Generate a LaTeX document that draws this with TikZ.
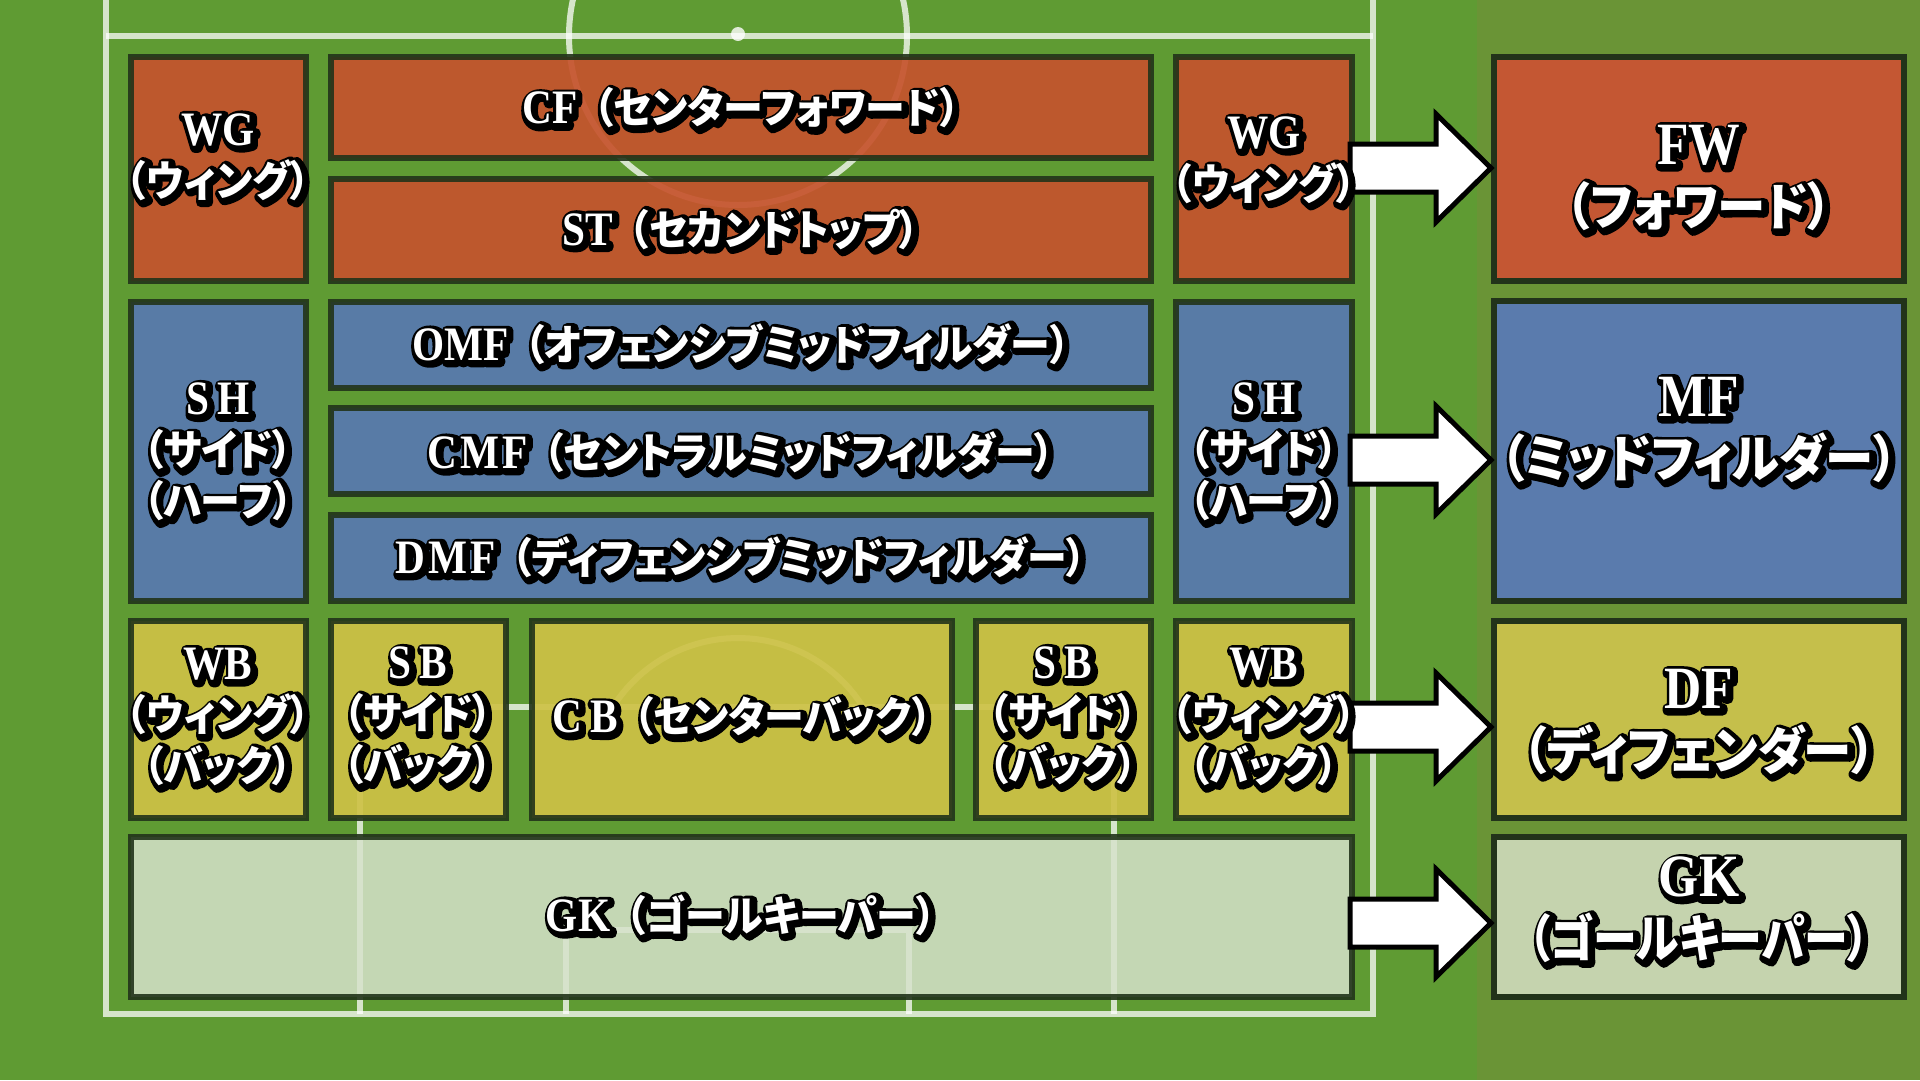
\documentclass[tikz,border=0pt]{standalone}
\usepackage{fontspec}
\usetikzlibrary{calc}
\newfontfamily\latf{Liberation Serif}[FakeStretch=0.86]
\newfontfamily\jpf{Noto Sans CJK JP}[FakeStretch=0.95,RawFeature=+palt]
\newfontfamily\jpn{Noto Sans CJK JP}[FakeStretch=0.86,RawFeature=+palt]
\newcommand\J[1]{{\jpf\bfseries\fontsize{42}{51}\selectfont #1}}
\newcommand\JB[1]{{\jpf\bfseries\fontsize{51}{61}\selectfont #1}}
\newcommand\JN[1]{{\jpn\bfseries\fontsize{51}{61}\selectfont #1}}
\newcommand\strkon[1]{\special{pdf:literal direct 2 Tr #1 w 1 j 1 J}}
\newcommand\strkoff{\special{pdf:literal direct 0 Tr}}
\definecolor{grass}{HTML}{5F9B33}
\definecolor{bord}{HTML}{22331A}
\definecolor{fred}{HTML}{C6532D}
\definecolor{fblue}{HTML}{5879B0}
\definecolor{fyel}{HTML}{CEC246}
\definecolor{fgk}{HTML}{D6E2CB}
\definecolor{pgreen}{HTML}{6A9436}
\definecolor{pred}{HTML}{C45733}
\definecolor{pblue}{HTML}{5A7BAD}
\definecolor{pyel}{HTML}{C5BF4B}
\definecolor{pgk}{HTML}{C5D3AE}
\tikzset{
  posbox/.style={draw=bord, line width=6pt, inner sep=0pt, outer sep=0pt},
  fbx/.style={posbox, fill opacity=0.92, draw opacity=0.9},
  fieldline/.style={draw=white, line width=6pt, draw opacity=0.75},
  lbl/.style={align=center, inner sep=0pt, font=\latf\bfseries\fontsize{48}{51}\selectfont},
  biglbl/.style={align=center, inner sep=0pt, font=\latf\bfseries\fontsize{60}{61}\selectfont},
  fatarr/.style={fill=white, draw=black, line width=5pt, line join=miter}
}
% name, x0, y0, x1, y1, style
\newcommand\mkbox[6]{%
  \node[#6, minimum width={#4-#2-6}, minimum height={#5-#3-6}] (#1) at ({(#2+#4)/2},{(#3+#5)/2}) {};}
% [style] name, x, y, text  -- black outlined copy with shadow, then white text
\newcommand\olab[5][lbl]{%
  \node[#1, text=black] (#2sh) at (#3+2,#4+2) {\strkon{10}#5\strkoff};
  \node[#1, text=white] (#2) at (#3,#4) {#5};}
% from, to, y
\newcommand\fatarrow[3]{%
  \coordinate (ay) at (0,#3);
  \coordinate (s) at (#1.east |- ay);
  \coordinate (t) at ([xshift=-3pt]#2.west |- ay);
  \draw[fatarr] ($(s)+(-2,-24)$) -- ($(t)+(-55,-24)$) -- ($(t)+(-55,-54)$) -- (t)
     -- ($(t)+(-55,54)$) -- ($(t)+(-55,24)$) -- ($(s)+(-2,24)$) -- cycle;}
\begin{document}
\begin{tikzpicture}[x=1pt,y=-1pt]
\useasboundingbox (0,0) rectangle (1920,1080);
\fill[grass] (0,0) rectangle (1920,1080);
% field markings
\draw[fieldline] (106,0) -- (106,1014) -- (1373,1014) -- (1373,0);
\draw[fieldline] (106,36) -- (1373,36);
\draw[fieldline] (738,36) circle (169);
\fill[white, opacity=0.8] (738,34) circle (7);
\draw[fieldline] (360,1014) -- (360,707) -- (1114,707) -- (1114,1014);
\draw[fieldline] (566,1014) -- (566,930) -- (909,930) -- (909,1014);
\draw[fieldline] plot[domain=-147.7:-32.3, samples=40] ({738+148*cos(\x)},{786+148*sin(\x)});
% right panel
\fill[pgreen] (1477,0) rectangle (1920,1080);
% field boxes
\mkbox{wgLb}{128}{54}{309}{284}{fbx, fill=fred}
\mkbox{cfb}{328}{54}{1154}{161}{fbx, fill=fred}
\mkbox{stb}{328}{176}{1154}{284}{fbx, fill=fred}
\mkbox{wgRb}{1173}{54}{1355}{284}{fbx, fill=fred}
\mkbox{shLb}{128}{299}{309}{604}{fbx, fill=fblue}
\mkbox{omfb}{328}{299}{1154}{391}{fbx, fill=fblue}
\mkbox{cmfb}{328}{405}{1154}{497}{fbx, fill=fblue}
\mkbox{dmfb}{328}{512}{1154}{604}{fbx, fill=fblue}
\mkbox{shRb}{1173}{299}{1355}{604}{fbx, fill=fblue}
\mkbox{wbLb}{128}{618}{309}{821}{fbx, fill=fyel}
\mkbox{sbLb}{328}{618}{509}{821}{fbx, fill=fyel}
\mkbox{cbb}{529}{618}{955}{821}{fbx, fill=fyel}
\mkbox{sbRb}{973}{618}{1154}{821}{fbx, fill=fyel}
\mkbox{wbRb}{1173}{618}{1355}{821}{fbx, fill=fyel}
\mkbox{gkb}{128}{834}{1355}{1000}{posbox, fill=fgk, fill opacity=0.85, draw opacity=0.9}
% panel boxes
\mkbox{fwP}{1491}{54}{1907}{284}{posbox, fill=pred}
\mkbox{mfP}{1491}{298}{1907}{604}{posbox, fill=pblue}
\mkbox{dfP}{1491}{618}{1907}{821}{posbox, fill=pyel}
\mkbox{gkP}{1491}{834}{1907}{1000}{posbox, fill=pgk}
% arrows
\fatarrow{wgRb}{fwP}{168}
\fatarrow{shRb}{mfP}{460}
\fatarrow{wbRb}{dfP}{727}
\fatarrow{gkb}{gkP}{923}
% labels
\olab{wgL}{218}{157}{WG\\\J{（ウィング）}}
\olab{cf}{741}{108}{CF\hspace{16pt}\J{（センターフォワード）}}
\olab{st}{741}{229}{ST\hspace{16pt}\J{（セカンドトップ）}}
\olab{wgR}{1264}{160}{WG\\\J{（ウィング）}}
\olab{shL}{218}{452}{S\hspace{8pt}H\\\J{（サイド）}\\\J{（ハーフ）}}
\olab{omf}{741}{344}{OMF\hspace{16pt}\J{（オフェンシブミッドフィルダー）}}
\olab{cmf}{741}{452}{C\hspace{3pt}M\hspace{3pt}F\hspace{16pt}\J{（セントラルミッドフィルダー）}}
\olab{dmf}{741}{557}{D\hspace{3pt}M\hspace{3pt}F\hspace{16pt}\J{（ディフェンシブミッドフィルダー）}}
\olab{shR}{1264}{452}{S\hspace{8pt}H\\\J{（サイド）}\\\J{（ハーフ）}}
\olab{wbL}{218}{717}{WB\\\J{（ウィング）}\\\J{（バック）}}
\olab{sbL}{418}{716}{S\hspace{8pt}B\\\J{（サイド）}\\\J{（バック）}}
\olab{cb}{742}{717}{C\hspace{8pt}B\hspace{16pt}\J{（センターバック）}}
\olab{sbR}{1063}{716}{S\hspace{8pt}B\\\J{（サイド）}\\\J{（バック）}}
\olab{wbR}{1264}{717}{WB\\\J{（ウィング）}\\\J{（バック）}}
\olab{gk}{741}{915}{GK\hspace{16pt}\J{（ゴールキーパー）}}
\olab[biglbl]{fw}{1699}{178}{FW\\\JB{（フォワード）}}
\olab[biglbl]{mf}{1699}{430}{MF\\\JB{（ミッドフィルダー）}}
\olab[biglbl]{df}{1699}{722}{DF\\\JB{（ディフェンダー）}}
\olab[biglbl]{gkr}{1699}{910}{GK\\\JN{（ゴールキーパー）}}
\end{tikzpicture}
\end{document}
